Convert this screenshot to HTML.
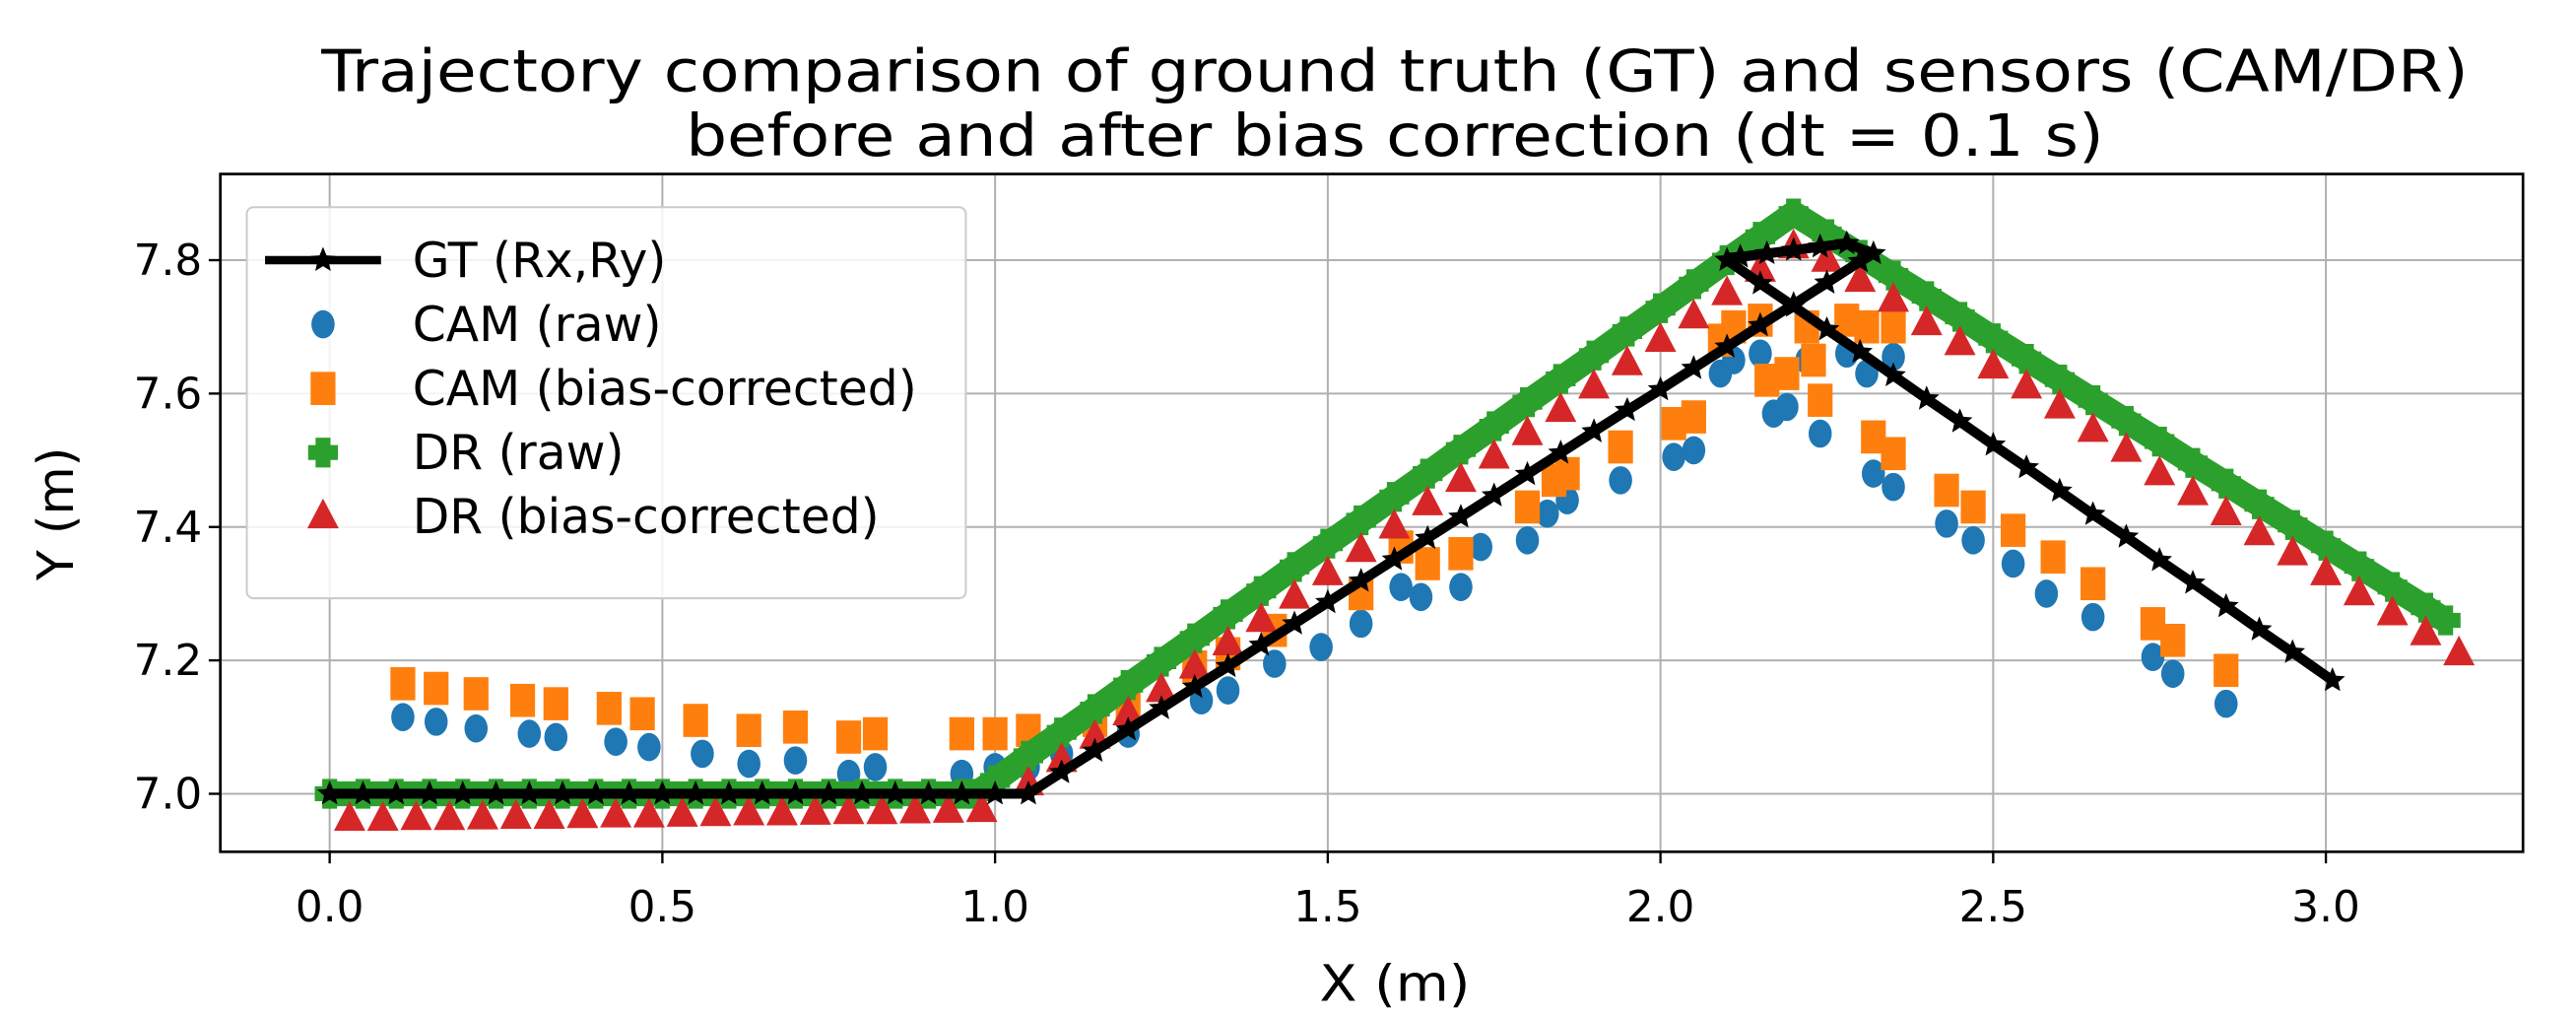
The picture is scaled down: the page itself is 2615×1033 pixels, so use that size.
<!DOCTYPE html>
<html><head><meta charset="utf-8"><style>
html,body{margin:0;padding:0;background:#fff}
svg{display:block}
text{font-family:"DejaVu Sans","Liberation Sans",sans-serif;fill:#000}
</style></head><body>
<svg id="chart" width="2615" height="1033" viewBox="0 0 1555 614.3" preserveAspectRatio="none" xmlns="http://www.w3.org/2000/svg">
<rect width="1555" height="614.3" fill="#fff"/>
<g id="title">
<text x="842" y="55" font-size="35" text-anchor="middle" textLength="1296" lengthAdjust="spacingAndGlyphs">Trajectory comparison of ground truth (GT) and sensors (CAM/DR)</text>
<text x="842" y="94" font-size="35" text-anchor="middle" textLength="856" lengthAdjust="spacingAndGlyphs">before and after bias correction (dt = 0.1 s)</text>
</g>
<g id="grid"></g>
<g id="marks"></g>
<rect x="133" y="105" width="1390" height="409" fill="none" stroke="#000" stroke-width="1.6"/>
<g id="ticks"></g>
<text x="842" y="604" font-size="30" text-anchor="middle" textLength="91" lengthAdjust="spacingAndGlyphs">X (m)</text>
<text x="44" y="310" font-size="30" text-anchor="middle" transform="rotate(-90 44 310)">Y (m)</text>
<g id="legend">
<rect x="149" y="125" width="434" height="236" rx="4" fill="#fff" fill-opacity="0.85" stroke="#ccc" stroke-width="1.2"/>
</g>
</svg>
<script>
const xTicks=[0.0,0.5,1.0,1.5,2.0,2.5,3.0];
const xTickLabels=["0.0","0.5","1.0","1.5","2.0","2.5","3.0"];
const yTicks=[7.0,7.2,7.4,7.6,7.8];
const yTickLabels=["7.0","7.2","7.4","7.6","7.8"];
const gtX=[0,0.05,0.1,0.15,0.2,0.25,0.3,0.35,0.4,0.45,0.5,0.55,0.6,0.65,0.7,0.75,0.8,0.85,0.9,0.95,1.0,1.05,1.1,1.15,1.2,1.25,1.3,1.35,1.4,1.45,1.5,1.55,1.6,1.65,1.7,1.75,1.8,1.85,1.9,1.95,2.0,2.05,2.1,2.15,2.2,2.25,2.3,2.32,2.28,2.24,2.2,2.16,2.12,2.1,2.15,2.2,2.25,2.3,2.35,2.4,2.45,2.5,2.55,2.6,2.65,2.7,2.75,2.8,2.85,2.9,2.95,3.01];
const gtY=[7,7,7,7,7,7,7,7,7,7,7,7,7,7,7,7,7,7,7,7,7,7,7.032,7.064,7.096,7.128,7.16,7.191,7.223,7.255,7.287,7.319,7.351,7.383,7.415,7.447,7.479,7.511,7.543,7.575,7.606,7.638,7.67,7.702,7.734,7.766,7.798,7.81,7.825,7.82,7.815,7.81,7.805,7.8,7.765,7.731,7.696,7.662,7.627,7.592,7.558,7.523,7.489,7.454,7.419,7.385,7.35,7.316,7.281,7.246,7.212,7.17];
const camRawX=[0.11,0.16,0.22,0.30,0.34,0.43,0.48,0.56,0.63,0.70,0.78,0.82,0.95,1.0,1.05,1.1,1.2,1.31,1.35,1.42,1.49,1.55,1.61,1.64,1.70,1.73,1.80,1.83,1.86,1.94,2.02,2.05,2.09,2.11,2.15,2.17,2.19,2.22,2.24,2.28,2.31,2.32,2.35,2.35,2.43,2.47,2.53,2.58,2.65,2.74,2.77,2.85];
const camRawY=[7.115,7.108,7.098,7.09,7.085,7.078,7.07,7.06,7.045,7.05,7.03,7.04,7.03,7.04,7.04,7.06,7.09,7.14,7.155,7.195,7.22,7.255,7.31,7.295,7.31,7.37,7.38,7.42,7.44,7.47,7.505,7.515,7.63,7.65,7.66,7.57,7.58,7.65,7.54,7.66,7.63,7.48,7.46,7.655,7.405,7.38,7.345,7.30,7.265,7.205,7.18,7.135];
const camCorX=[0.11,0.16,0.22,0.29,0.34,0.42,0.47,0.55,0.63,0.70,0.78,0.82,0.95,1.0,1.05,1.15,1.2,1.3,1.35,1.42,1.55,1.61,1.65,1.70,1.80,1.84,1.86,1.94,2.02,2.05,2.09,2.11,2.15,2.16,2.19,2.22,2.23,2.24,2.28,2.31,2.32,2.35,2.35,2.43,2.47,2.53,2.59,2.65,2.74,2.77,2.85];
const camCorY=[7.165,7.158,7.15,7.14,7.135,7.128,7.12,7.11,7.095,7.10,7.085,7.09,7.09,7.09,7.095,7.11,7.13,7.19,7.21,7.245,7.3,7.37,7.345,7.36,7.43,7.47,7.48,7.52,7.555,7.565,7.68,7.7,7.71,7.62,7.63,7.70,7.65,7.59,7.71,7.70,7.535,7.51,7.70,7.455,7.43,7.395,7.355,7.315,7.255,7.23,7.185];
const drRawX=[0,0.05,0.1,0.15,0.2,0.25,0.3,0.35,0.4,0.45,0.5,0.55,0.6,0.65,0.7,0.75,0.8,0.85,0.9,0.95,0.97,1.0,1.05,1.1,1.15,1.2,1.25,1.3,1.35,1.4,1.45,1.5,1.55,1.6,1.65,1.7,1.75,1.8,1.85,1.9,1.95,2.0,2.05,2.1,2.15,2.2,2.25,2.3,2.35,2.4,2.45,2.5,2.55,2.6,2.65,2.7,2.75,2.8,2.85,2.9,2.95,3.0,3.05,3.1,3.15,3.18];
const drRawY=[7,7,7,7,7,7,7,7,7,7,7,7,7,7,7,7,7,7,7,7,7,7.02,7.057,7.092,7.127,7.163,7.198,7.233,7.269,7.304,7.34,7.375,7.41,7.445,7.48,7.516,7.551,7.587,7.622,7.657,7.693,7.728,7.764,7.8,7.835,7.87,7.839,7.808,7.777,7.746,7.715,7.683,7.652,7.621,7.59,7.559,7.528,7.496,7.465,7.434,7.403,7.372,7.341,7.31,7.279,7.26];
const drCorX=[0.03,0.08,0.13,0.18,0.23,0.28,0.33,0.38,0.43,0.48,0.53,0.58,0.63,0.68,0.73,0.78,0.83,0.88,0.93,0.98,1.05,1.1,1.15,1.2,1.25,1.3,1.35,1.4,1.45,1.5,1.55,1.6,1.65,1.7,1.75,1.8,1.85,1.9,1.95,2.0,2.05,2.1,2.15,2.2,2.25,2.3,2.35,2.4,2.45,2.5,2.55,2.6,2.65,2.7,2.75,2.8,2.85,2.9,2.95,3.0,3.05,3.1,3.15,3.2];
const drCorY=[6.962,6.962,6.963,6.963,6.964,6.965,6.965,6.966,6.967,6.967,6.968,6.969,6.97,6.97,6.971,6.972,6.972,6.973,6.974,6.975,7.015,7.05,7.085,7.12,7.155,7.19,7.225,7.26,7.295,7.33,7.365,7.4,7.435,7.47,7.505,7.54,7.575,7.61,7.645,7.68,7.715,7.75,7.785,7.82,7.8,7.77,7.74,7.705,7.675,7.64,7.61,7.58,7.545,7.515,7.48,7.45,7.42,7.39,7.36,7.33,7.3,7.27,7.24,7.21];

const NS='http://www.w3.org/2000/svg';
function sx(v){return 199+(v-0)*401.67;}
function sy(v){return 479-(v-7.0)*402.5;}
function mk(tag,attrs,parent){const e=document.createElementNS(NS,tag);for(const k in attrs)e.setAttribute(k,attrs[k]);parent.appendChild(e);return e;}
const grid=document.getElementById('grid'),ticks=document.getElementById('ticks'),marks=document.getElementById('marks'),legend=document.getElementById('legend');

xTicks.forEach((t,i)=>{
  const g=mk('line',{x1:sx(t),x2:sx(t),y1:105,y2:514,stroke:'#b0b0b0','stroke-width':1.2},grid);
  
  
  const tk=mk('line',{x1:sx(t),x2:sx(t),y1:514,y2:521,stroke:'#000','stroke-width':1.4},ticks);
  
  
  const lb=mk('text',{x:sx(t),y:556,'font-size':26,'text-anchor':'middle'},ticks);
  lb.textContent=xTickLabels[i];
  
  
});
yTicks.forEach((t,i)=>{
  const g=mk('line',{x1:133,x2:1523,y1:sy(t),y2:sy(t),stroke:'#b0b0b0','stroke-width':1.2},grid);
  
  
  const tk=mk('line',{x1:126,x2:133,y1:sy(t),y2:sy(t),stroke:'#000','stroke-width':1.4},ticks);
  
  
  const lb=mk('text',{x:122,y:sy(t)+9,'font-size':26,'text-anchor':'end'},ticks);
  lb.textContent=yTickLabels[i];
  
  
});

function star(cx,cy,r){let p=[];for(let i=0;i<10;i++){const a=-Math.PI/2+i*Math.PI/5;const rr=i%2?r*0.45:r;p.push((cx+rr*Math.cos(a)).toFixed(1)+','+(cy+rr*Math.sin(a)).toFixed(1));}return p.join(' ');}
function drawMarker(kind,cx,cy,parent){
  let e;
  if(kind==='circle'){e=mk('ellipse',{cx:cx,cy:cy,rx:7,ry:8.5,fill:'#1f77b4'},parent);}
  else if(kind==='square'){e=mk('rect',{x:cx-7.5,y:cy-10,width:15,height:20,fill:'#ff7f0e'},parent);}
  else if(kind==='plus'){const s=4.5,l=9;e=mk('polygon',{points:`${cx-s},${cy-l} ${cx+s},${cy-l} ${cx+s},${cy-s} ${cx+l},${cy-s} ${cx+l},${cy+s} ${cx+s},${cy+s} ${cx+s},${cy+l} ${cx-s},${cy+l} ${cx-s},${cy+s} ${cx-l},${cy+s} ${cx-l},${cy-s} ${cx-s},${cy-s}`,fill:'#2ca02c'},parent);}
  else if(kind==='tri'){e=mk('polygon',{points:`${cx},${cy-11} ${cx+9.5},${cy+7} ${cx-9.5},${cy+7}`,fill:'#d62728'},parent);}
  else {e=mk('polygon',{points:star(cx,cy,8),fill:'#000'},parent);}
  return e;
}
function series(xs,ys,kind,name){
  const g=mk('g',{},marks);
  
  
  const pts=xs.map((x,i)=>sx(x).toFixed(1)+','+sy(ys[i]).toFixed(1)).join(' ');
  if(kind==='star'){
    const pl=mk('polyline',{points:pts,fill:'none',stroke:'#000','stroke-width':6,'stroke-linejoin':'round'},g);
    
    
  }
  if(kind==='plus'){
    mk('polyline',{points:pts,fill:'none',stroke:'#2ca02c','stroke-width':15,'stroke-linejoin':'round'},g);
  }
  xs.forEach((x,i)=>{
    const m=drawMarker(kind,sx(x),sy(ys[i]),g);
    
    
  });
}
series(camRawX,camRawY,'circle','cam-raw-series');
series(camCorX,camCorY,'square','cam-corrected-series');
series(drRawX,drRawY,'plus','dr-raw-series');
series(drCorX,drCorY,'tri','dr-corrected-series');
series(gtX,gtY,'star','gt-series');

const legLabels=["GT (Rx,Ry)","CAM (raw)","CAM (bias-corrected)","DR (raw)","DR (bias-corrected)"];
const legKinds=['star','circle','square','plus','tri'];
const legNames=['legend-entry-gt','legend-entry-cam-raw','legend-entry-cam-corrected','legend-entry-dr-raw','legend-entry-dr-corrected'];
legLabels.forEach((l,i)=>{
  const y=157+i*38.7;
  const g=mk('g',{},legend);
  
  
  if(legKinds[i]==='star'){mk('line',{x1:160,x2:230,y1:y,y2:y,stroke:'#000','stroke-width':5},g);}
  drawMarker(legKinds[i],195,y,g);
  const t=mk('text',{x:249,y:y+10,'font-size':29},g);
  t.textContent=l;
});
</script>
</body></html>
